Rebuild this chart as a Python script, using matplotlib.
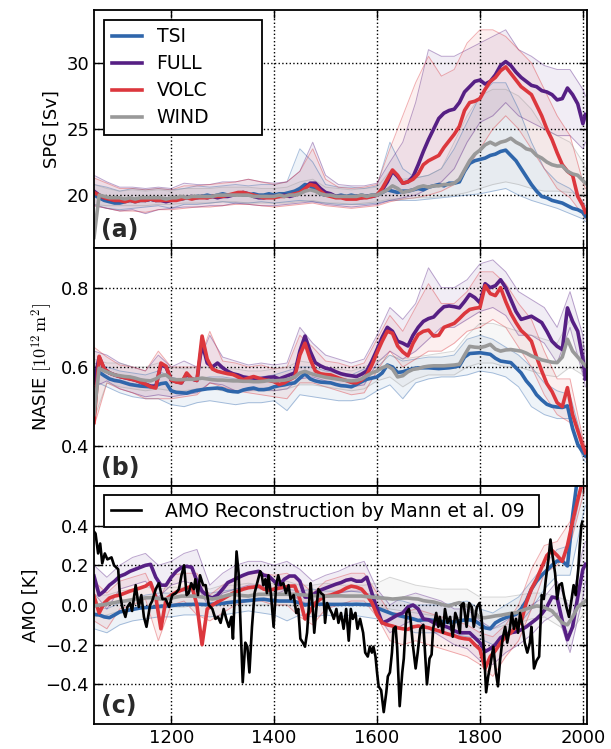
import numpy as np
import matplotlib
matplotlib.use("Agg")
import matplotlib.pyplot as plt

# year grids: ensemble means every 10 yr, ensemble envelopes every 25 yr
years = list(range(1050, 2001, 10)) + [2005]
years_env = list(range(1050, 2001, 25)) + [2005]

# ---------------- (a) SPG [Sv] ----------------
spg_tsi = [20.0, 19.8, 19.6, 19.5, 19.4, 19.4, 19.5, 19.6, 19.5, 19.6,
           19.6, 19.7, 19.6, 19.7, 19.7, 19.7, 19.8, 19.7, 19.8, 19.8,
           19.9, 19.9, 20.0, 19.9, 20.0, 20.1, 20.0, 20.0, 20.1, 20.0,
           20.0, 20.1, 20.0, 20.0, 20.1, 20.0, 20.1, 20.1, 20.2, 20.3,
           20.5, 20.8, 20.7, 20.4, 20.1, 20.0, 20.0, 19.9, 20.0, 19.9,
           20.0, 19.9, 20.0, 19.9, 20.0, 20.0, 20.2, 20.4, 20.3, 20.2,
           20.3, 20.3, 20.4, 20.5, 20.4, 20.6, 20.7, 20.8, 20.7, 20.9,
           20.9, 21.0, 21.8, 22.4, 22.6, 22.7, 22.8, 23.0, 23.1, 23.3,
           23.4, 23.0, 22.6, 22.0, 21.4, 20.8, 20.3, 19.9, 19.8, 19.6,
           19.5, 19.4, 19.2, 19.0, 18.9, 18.7, 18.4]
spg_full = [20.3, 20.0, 19.8, 19.7, 19.6, 19.6, 19.6, 19.7, 19.6, 19.7,
            19.6, 19.7, 19.6, 19.6, 19.5, 19.6, 19.7, 19.8, 19.8, 19.9,
            19.8, 19.9, 19.8, 19.9, 19.8, 19.9, 19.9, 20.0, 20.1, 20.2,
            20.1, 19.9, 19.8, 19.8, 19.9, 19.9, 19.9, 20.0, 19.9, 20.0,
            20.2, 20.5, 20.9, 20.9, 20.5, 20.2, 20.1, 19.9, 19.9, 19.8,
            19.8, 19.9, 19.8, 19.9, 19.9, 20.0, 20.4, 21.0, 21.8, 21.4,
            20.9, 21.0, 21.4, 22.3, 23.3, 24.2, 25.0, 25.8, 26.2, 26.4,
            26.5, 27.0, 27.8, 28.2, 28.6, 28.7, 28.4, 28.6, 29.1, 29.8,
            30.1, 29.8, 29.3, 28.9, 28.6, 28.3, 28.2, 27.9, 27.8, 27.6,
            27.2, 27.3, 28.1, 27.6, 26.9, 25.4, 26.1]
spg_volc = [20.2, 20.0, 19.8, 19.7, 19.6, 19.6, 19.5, 19.6, 19.5, 19.6,
            19.6, 19.7, 19.6, 19.6, 19.6, 19.6, 19.6, 19.7, 19.8, 19.7,
            19.8, 19.8, 19.8, 19.9, 19.9, 19.9, 20.0, 20.1, 20.2, 20.2,
            20.1, 20.0, 19.9, 19.8, 19.8, 19.8, 19.9, 19.9, 20.0, 20.1,
            20.2, 20.5, 20.8, 20.7, 20.3, 20.0, 19.9, 19.8, 19.8, 19.7,
            19.7, 19.7, 19.8, 19.8, 19.9, 20.0, 20.5, 21.2, 21.9, 21.5,
            20.9, 21.0, 21.2, 21.6, 22.3, 22.6, 22.8, 23.0, 23.6, 24.1,
            24.6, 25.2, 26.4, 27.0, 27.1, 27.3, 28.0, 28.6, 28.9, 29.4,
            29.7, 29.2, 28.7, 28.2, 27.9, 27.6, 26.8, 26.0, 25.0, 24.2,
            23.2, 22.3, 21.8, 21.5, 19.9, 19.2, 18.7]
spg_wind = [16.8, 20.0, 19.9, 19.8, 19.8, 19.8, 19.7, 19.8, 19.7, 19.8,
            19.8, 19.8, 19.8, 19.8, 19.7, 19.8, 19.8, 19.9, 19.8, 19.9,
            19.9, 19.9, 19.9, 19.9, 20.0, 20.0, 20.0, 20.0, 20.0, 20.0,
            20.0, 19.9, 19.9, 19.9, 19.9, 19.9, 20.0, 19.9, 20.0, 20.0,
            20.1, 20.3, 20.4, 20.3, 20.1, 20.0, 20.0, 19.9, 19.9, 19.9,
            19.9, 19.9, 20.0, 19.9, 20.0, 20.0, 20.2, 20.4, 20.7, 20.5,
            20.2, 20.3, 20.4, 20.6, 20.7, 20.6, 20.7, 20.7, 20.8, 20.8,
            20.9, 21.2, 21.9, 22.6, 23.1, 23.4, 23.8, 24.0, 23.8, 24.0,
            24.1, 24.3, 24.0, 23.8, 23.5, 23.4, 23.0, 22.8, 22.5, 22.3,
            22.2, 22.2, 21.8, 21.6, 21.5, 21.1, 20.9]

spg_tsi_hi = [20.8, 20.6, 20.3, 20.5, 20.4, 20.5, 20.4, 20.5,
              20.7, 20.6, 20.7, 20.8, 20.7, 20.8, 20.8, 21.0,
              23.5, 22.5, 20.8, 20.6, 20.6, 20.5, 20.7, 24.0,
              22.0, 21.3, 21.5, 22.0, 23.5, 25.5, 27.5, 28.5,
              28.5, 26.5, 24.0, 22.0, 21.0, 20.5, 19.5, 19.2]
spg_tsi_lo = [19.3, 19.0, 18.9, 19.0, 19.1, 19.2, 19.0, 19.3,
              19.3, 19.4, 19.5, 19.4, 19.4, 19.5, 19.4, 19.5,
              19.6, 19.5, 19.4, 19.3, 19.3, 19.3, 19.4, 19.6,
              19.6, 19.6, 19.7, 19.8, 19.9, 20.0, 20.1, 20.3,
              20.5, 20.0, 19.6, 19.3, 19.0, 18.6, 18.2, 18.0]
spg_full_hi = [21.5, 21.0, 20.6, 20.6, 20.5, 20.6, 20.5, 20.9,
               20.8, 20.8, 21.0, 21.0, 21.2, 21.0, 20.9, 21.0,
               21.8, 24.0, 21.5, 20.8, 20.7, 20.7, 20.9, 22.5,
               24.0, 27.0, 31.0, 30.5, 30.5, 31.0, 31.5, 32.0,
               32.5, 31.0, 30.5, 29.8, 29.5, 29.5, 28.0, 27.5]
spg_full_lo = [19.2, 19.0, 18.8, 18.9, 18.6, 18.9, 19.0, 19.1,
               19.1, 19.2, 19.2, 19.4, 19.3, 19.2, 19.2, 19.3,
               19.4, 19.5, 19.3, 19.2, 19.1, 19.2, 19.3, 19.6,
               19.8, 20.0, 20.5, 21.0, 22.0, 24.0, 25.5, 26.0,
               27.0, 26.0, 25.5, 25.0, 24.5, 24.5, 23.5, 24.0]
spg_volc_hi = [21.3, 20.9, 20.5, 20.5, 20.4, 20.5, 20.4, 20.7,
               20.7, 20.8, 20.9, 21.0, 21.2, 21.0, 20.8, 21.0,
               21.8, 23.5, 21.2, 20.6, 20.5, 20.6, 20.8, 23.5,
               26.0, 28.5, 30.5, 29.0, 29.5, 31.5, 32.5, 32.5,
               32.0, 31.0, 30.0, 28.0, 26.0, 24.5, 21.0, 20.5]
spg_volc_lo = [19.2, 19.0, 18.8, 18.8, 18.7, 18.9, 18.9, 19.0,
               19.1, 19.1, 19.2, 19.3, 19.3, 19.2, 19.1, 19.2,
               19.3, 19.4, 19.2, 19.1, 19.0, 19.1, 19.2, 19.5,
               19.7, 19.8, 20.0, 20.3, 20.8, 22.0, 23.5, 25.0,
               26.0, 25.0, 23.5, 22.0, 20.5, 19.8, 18.5, 18.2]
spg_wind_hi = [20.8, 20.5, 20.3, 20.4, 20.3, 20.4, 20.3, 20.5,
               20.5, 20.5, 20.6, 20.6, 20.6, 20.5, 20.5, 20.6,
               21.0, 21.2, 20.6, 20.5, 20.4, 20.5, 20.6, 21.8,
               21.2, 21.3, 21.5, 22.0, 24.0, 26.0, 27.5, 28.0,
               28.0, 27.5, 26.5, 25.0, 24.5, 24.0, 22.5, 22.0]
spg_wind_lo = [19.3, 19.2, 19.2, 19.2, 19.2, 19.3, 19.3, 19.4,
               19.4, 19.4, 19.5, 19.5, 19.4, 19.4, 19.4, 19.4,
               19.5, 19.6, 19.4, 19.4, 19.3, 19.4, 19.5, 19.7,
               19.7, 19.8, 19.8, 19.9, 20.0, 20.2, 20.5, 20.8,
               21.0, 20.8, 20.5, 20.3, 20.3, 20.2, 20.0, 19.8]

# ---------------- (b) NASIE ----------------
ice_tsi = [0.590, 0.587, 0.578, 0.570, 0.566, 0.564, 0.560, 0.556, 0.554, 0.552,
           0.551, 0.550, 0.553, 0.558, 0.560, 0.540, 0.536, 0.535, 0.534, 0.538,
           0.541, 0.543, 0.545, 0.546, 0.547, 0.545, 0.540, 0.538, 0.537, 0.542,
           0.545, 0.547, 0.543, 0.543, 0.545, 0.550, 0.553, 0.555, 0.558, 0.560,
           0.572, 0.583, 0.570, 0.565, 0.562, 0.561, 0.560, 0.556, 0.553, 0.552,
           0.550, 0.556, 0.563, 0.569, 0.572, 0.575, 0.585, 0.605, 0.600, 0.586,
           0.588, 0.592, 0.596, 0.598, 0.598, 0.598, 0.597, 0.596, 0.597, 0.598,
           0.600, 0.603, 0.625, 0.634, 0.635, 0.636, 0.634, 0.632, 0.622, 0.615,
           0.613, 0.611, 0.598, 0.585, 0.565, 0.550, 0.530, 0.517, 0.506, 0.501,
           0.499, 0.498, 0.502, 0.445, 0.405, 0.385, 0.376]
ice_full = [0.560, 0.625, 0.595, 0.585, 0.580, 0.576, 0.573, 0.570, 0.567, 0.562,
            0.557, 0.552, 0.550, 0.605, 0.600, 0.567, 0.563, 0.560, 0.582, 0.570,
            0.566, 0.660, 0.610, 0.600, 0.610, 0.598, 0.589, 0.583, 0.580, 0.575,
            0.573, 0.572, 0.570, 0.572, 0.574, 0.575, 0.570, 0.575, 0.580, 0.585,
            0.640, 0.678, 0.640, 0.611, 0.603, 0.597, 0.594, 0.588, 0.583, 0.580,
            0.578, 0.576, 0.582, 0.590, 0.615, 0.644, 0.675, 0.700, 0.690, 0.665,
            0.660, 0.653, 0.680, 0.700, 0.715, 0.722, 0.726, 0.740, 0.752, 0.754,
            0.752, 0.749, 0.765, 0.783, 0.775, 0.762, 0.810, 0.800, 0.805, 0.820,
            0.800, 0.770, 0.740, 0.720, 0.724, 0.728, 0.720, 0.712, 0.690, 0.665,
            0.652, 0.644, 0.749, 0.715, 0.690, 0.620, 0.570]
ice_volc = [0.460, 0.627, 0.595, 0.585, 0.580, 0.576, 0.573, 0.570, 0.567, 0.562,
            0.557, 0.550, 0.547, 0.610, 0.602, 0.567, 0.562, 0.560, 0.585, 0.570,
            0.566, 0.678, 0.620, 0.595, 0.589, 0.586, 0.583, 0.581, 0.575, 0.568,
            0.572, 0.576, 0.572, 0.568, 0.566, 0.563, 0.556, 0.560, 0.568, 0.575,
            0.630, 0.660, 0.620, 0.590, 0.583, 0.581, 0.580, 0.575, 0.570, 0.566,
            0.561, 0.560, 0.567, 0.580, 0.605, 0.636, 0.665, 0.690, 0.685, 0.653,
            0.638, 0.628, 0.660, 0.682, 0.690, 0.693, 0.678, 0.680, 0.700, 0.705,
            0.710, 0.722, 0.735, 0.745, 0.748, 0.750, 0.805, 0.785, 0.780, 0.800,
            0.765, 0.735, 0.712, 0.692, 0.680, 0.665, 0.625, 0.590, 0.558, 0.538,
            0.510, 0.500, 0.548, 0.480, 0.440, 0.400, 0.384]
ice_wind = [0.480, 0.597, 0.590, 0.585, 0.580, 0.578, 0.576, 0.575, 0.572, 0.568,
            0.566, 0.565, 0.570, 0.578, 0.580, 0.570, 0.568, 0.568, 0.569, 0.569,
            0.570, 0.572, 0.570, 0.568, 0.567, 0.567, 0.566, 0.565, 0.565, 0.564,
            0.564, 0.563, 0.563, 0.564, 0.566, 0.565, 0.566, 0.567, 0.570, 0.575,
            0.585, 0.589, 0.584, 0.580, 0.577, 0.574, 0.572, 0.570, 0.568, 0.566,
            0.565, 0.566, 0.570, 0.578, 0.585, 0.590, 0.598, 0.603, 0.595, 0.575,
            0.578, 0.588, 0.594, 0.596, 0.600, 0.602, 0.603, 0.603, 0.603, 0.604,
            0.605, 0.607, 0.630, 0.652, 0.650, 0.649, 0.652, 0.657, 0.645, 0.640,
            0.643, 0.644, 0.642, 0.640, 0.635, 0.628, 0.623, 0.618, 0.615, 0.612,
            0.611, 0.625, 0.670, 0.640, 0.625, 0.610, 0.603]

ice_tsi_hi = [0.610, 0.600, 0.590, 0.585, 0.580, 0.590, 0.575, 0.565,
              0.570, 0.575, 0.575, 0.570, 0.575, 0.575, 0.580, 0.590,
              0.600, 0.600, 0.590, 0.585, 0.580, 0.595, 0.600, 0.630,
              0.615, 0.620, 0.625, 0.625, 0.630, 0.670, 0.680, 0.670,
              0.650, 0.630, 0.600, 0.560, 0.540, 0.530, 0.410, 0.390]
ice_tsi_lo = [0.565, 0.550, 0.535, 0.525, 0.520, 0.520, 0.505, 0.500,
              0.510, 0.515, 0.510, 0.505, 0.510, 0.510, 0.515, 0.490,
              0.530, 0.525, 0.520, 0.515, 0.515, 0.520, 0.540, 0.555,
              0.520, 0.560, 0.570, 0.575, 0.575, 0.580, 0.590, 0.585,
              0.575, 0.550, 0.500, 0.480, 0.470, 0.470, 0.370, 0.360]
ice_full_hi = [0.640, 0.630, 0.610, 0.600, 0.590, 0.630, 0.600, 0.615,
               0.600, 0.680, 0.625, 0.615, 0.605, 0.610, 0.605, 0.610,
               0.700, 0.660, 0.630, 0.620, 0.610, 0.620, 0.680, 0.750,
               0.720, 0.760, 0.850, 0.800, 0.800, 0.820, 0.860, 0.870,
               0.840, 0.790, 0.770, 0.750, 0.700, 0.790, 0.680, 0.600]
ice_full_lo = [0.550, 0.565, 0.545, 0.535, 0.525, 0.530, 0.525, 0.530,
               0.535, 0.560, 0.555, 0.540, 0.540, 0.545, 0.540, 0.545,
               0.570, 0.575, 0.565, 0.555, 0.550, 0.555, 0.610, 0.640,
               0.620, 0.640, 0.670, 0.700, 0.700, 0.720, 0.740, 0.750,
               0.730, 0.680, 0.680, 0.660, 0.610, 0.700, 0.580, 0.550]
ice_volc_hi = [0.650, 0.625, 0.605, 0.600, 0.590, 0.640, 0.600, 0.600,
               0.600, 0.690, 0.615, 0.610, 0.600, 0.605, 0.595, 0.600,
               0.680, 0.650, 0.615, 0.610, 0.600, 0.610, 0.670, 0.730,
               0.690, 0.750, 0.810, 0.760, 0.760, 0.790, 0.840, 0.840,
               0.810, 0.760, 0.720, 0.640, 0.570, 0.570, 0.420, 0.400]
ice_volc_lo = [0.450, 0.560, 0.545, 0.535, 0.520, 0.520, 0.520, 0.525,
               0.530, 0.560, 0.550, 0.540, 0.535, 0.530, 0.525, 0.520,
               0.560, 0.560, 0.550, 0.540, 0.530, 0.535, 0.590, 0.640,
               0.600, 0.620, 0.640, 0.640, 0.660, 0.690, 0.700, 0.720,
               0.700, 0.650, 0.600, 0.530, 0.480, 0.460, 0.380, 0.370]
ice_wind_hi = [0.620, 0.610, 0.610, 0.600, 0.600, 0.610, 0.600, 0.595,
               0.600, 0.600, 0.595, 0.595, 0.590, 0.590, 0.595, 0.600,
               0.615, 0.610, 0.600, 0.595, 0.590, 0.600, 0.615, 0.630,
               0.620, 0.625, 0.630, 0.635, 0.640, 0.680, 0.710, 0.710,
               0.700, 0.690, 0.680, 0.670, 0.660, 0.720, 0.660, 0.640]
ice_wind_lo = [0.470, 0.560, 0.550, 0.545, 0.540, 0.545, 0.540, 0.540,
               0.545, 0.545, 0.540, 0.540, 0.540, 0.540, 0.540, 0.545,
               0.555, 0.555, 0.550, 0.545, 0.540, 0.545, 0.565, 0.575,
               0.550, 0.570, 0.580, 0.580, 0.580, 0.600, 0.610, 0.610,
               0.600, 0.600, 0.590, 0.580, 0.575, 0.600, 0.580, 0.570]

# ---------------- (c) AMO [K] ----------------
amo_tsi = [-0.047, -0.050, -0.060, -0.064, -0.050, -0.035, -0.030, -0.025, -0.020, -0.015,
           -0.013, -0.012, -0.010, -0.006, -0.005, -0.003, 0.000, 0.002, 0.003, 0.003,
           0.004, 0.003, 0.002, 0.004, 0.006, 0.008, 0.012, 0.015, 0.018, 0.020,
           0.022, 0.025, 0.028, 0.029, 0.025, 0.022, 0.020, 0.020, 0.020, 0.018,
           0.010, 0.000, 0.005, 0.004, 0.004, 0.004, 0.003, 0.003, 0.003, 0.004,
           0.003, 0.004, 0.003, 0.002, 0.000, -0.015, -0.025, -0.035, -0.045, -0.052,
           -0.058, -0.064, -0.070, -0.078, -0.075, -0.074, -0.078, -0.082, -0.085, -0.088,
           -0.085, -0.080, -0.076, -0.075, -0.080, -0.097, -0.115, -0.120, -0.090, -0.075,
           -0.064, -0.055, -0.047, -0.020, 0.020, 0.080, 0.120, 0.150, 0.175, 0.200,
           0.222, 0.222, 0.197, 0.450, 0.650, 0.700, 0.700]
amo_full = [0.146, 0.050, 0.070, 0.100, 0.120, 0.145, 0.155, 0.170, 0.180, 0.190,
            0.200, 0.205, 0.140, 0.100, 0.100, 0.140, 0.170, 0.190, 0.195, 0.190,
            0.120, 0.070, 0.045, 0.035, 0.050, 0.080, 0.113, 0.125, 0.138, 0.150,
            0.160, 0.165, 0.170, 0.150, 0.145, 0.120, 0.100, 0.130, 0.146, 0.146,
            0.120, 0.040, 0.040, 0.060, 0.075, 0.085, 0.095, 0.105, 0.113, 0.125,
            0.130, 0.120, 0.120, 0.140, 0.060, -0.020, -0.090, -0.080, -0.065, -0.050,
            -0.040, -0.010, 0.000, -0.020, -0.070, -0.075, -0.089, -0.100, -0.105, -0.115,
            -0.130, -0.140, -0.140, -0.140, -0.165, -0.190, -0.235, -0.220, -0.200, -0.165,
            -0.150, -0.140, -0.135, -0.125, -0.110, -0.090, -0.070, -0.045, -0.010, 0.040,
            0.035, -0.080, -0.175, -0.110, 0.040, 0.180, 0.205]
amo_volc = [0.045, -0.040, 0.010, 0.035, 0.045, 0.050, 0.060, 0.070, 0.078, 0.086,
            0.095, 0.113, 0.040, -0.120, 0.030, 0.050, 0.065, 0.075, 0.085, 0.096,
            0.000, -0.200, -0.020, 0.000, 0.015, 0.030, 0.045, 0.060, 0.070, 0.080,
            0.087, 0.090, 0.095, 0.080, 0.075, 0.080, 0.085, 0.090, 0.095, 0.096,
            0.030, -0.070, -0.030, 0.010, 0.030, 0.045, 0.050, 0.060, 0.070, 0.085,
            0.095, 0.090, 0.080, 0.050, 0.012, -0.050, -0.090, -0.100, -0.106, -0.115,
            -0.120, -0.123, -0.110, -0.106, -0.110, -0.115, -0.123, -0.130, -0.140, -0.148,
            -0.155, -0.165, -0.170, -0.173, -0.200, -0.224, -0.320, -0.260, -0.230, -0.190,
            -0.160, -0.140, -0.110, -0.085, 0.012, 0.080, 0.130, 0.190, 0.250, 0.275,
            0.250, 0.220, 0.300, 0.420, 0.530, 0.630, 0.650]
amo_wind = [-0.005, 0.000, 0.002, 0.008, 0.012, 0.018, 0.020, 0.025, 0.030, 0.033,
            0.036, 0.037, 0.035, 0.030, 0.030, 0.035, 0.040, 0.045, 0.045, 0.045,
            0.044, 0.040, 0.035, 0.030, 0.035, 0.042, 0.050, 0.054, 0.050, 0.047,
            0.045, 0.050, 0.054, 0.054, 0.054, 0.054, 0.054, 0.054, 0.054, 0.054,
            0.052, 0.050, 0.048, 0.047, 0.046, 0.045, 0.045, 0.046, 0.046, 0.045,
            0.045, 0.045, 0.045, 0.042, 0.040, 0.037, 0.035, 0.033, 0.030, 0.032,
            0.035, 0.035, 0.032, 0.030, 0.022, 0.018, 0.015, 0.008, 0.000, -0.005,
            0.005, 0.012, 0.000, -0.010, -0.040, -0.064, -0.064, -0.060, -0.055, -0.052,
            -0.047, -0.042, -0.039, -0.030, -0.020, -0.012, -0.005, -0.008, -0.018, -0.030,
            -0.060, -0.090, -0.100, -0.060, -0.010, 0.010, 0.020]

amo_tsi_hi = [0.00, -0.02, 0.01, 0.03, 0.05, 0.06, 0.06, 0.07,
              0.07, 0.06, 0.07, 0.08, 0.09, 0.08, 0.08, 0.08,
              0.07, 0.08, 0.07, 0.07, 0.07, 0.06, 0.05, 0.03,
              0.02, 0.00, 0.00, 0.00, 0.01, 0.02, -0.02, -0.04,
              0.00, 0.04, 0.12, 0.20, 0.28, 0.30, 0.62, 0.62]
amo_tsi_lo = [-0.12, -0.14, -0.10, -0.08, -0.07, -0.06, -0.06, -0.05,
              -0.05, -0.06, -0.05, -0.04, -0.03, -0.04, -0.05, -0.08,
              -0.05, -0.06, -0.05, -0.06, -0.05, -0.06, -0.07, -0.10,
              -0.12, -0.14, -0.14, -0.14, -0.15, -0.16, -0.17, -0.20,
              -0.14, -0.10, -0.02, 0.08, 0.15, 0.15, 0.45, 0.50]
amo_full_hi = [0.20, 0.14, 0.20, 0.24, 0.26, 0.20, 0.22, 0.26,
               0.28, 0.10, 0.16, 0.20, 0.22, 0.22, 0.20, 0.22,
               0.18, 0.12, 0.15, 0.17, 0.20, 0.22, 0.08, 0.00,
               0.04, 0.06, 0.04, 0.02, -0.02, -0.02, -0.08, -0.12,
               -0.08, -0.04, 0.00, 0.04, 0.12, -0.02, 0.28, 0.32]
amo_full_lo = [0.06, -0.02, 0.08, 0.10, 0.12, 0.04, 0.10, 0.12,
               0.10, -0.02, 0.06, 0.08, 0.10, 0.10, 0.05, 0.08,
               0.02, 0.00, 0.04, 0.06, 0.07, 0.07, -0.05, -0.14,
               -0.10, -0.07, -0.12, -0.16, -0.20, -0.22, -0.28, -0.30,
               -0.24, -0.20, -0.15, -0.08, -0.04, -0.24, 0.04, 0.12]
amo_volc_hi = [0.12, 0.06, 0.12, 0.14, 0.16, 0.02, 0.15, 0.16,
               0.16, 0.05, 0.10, 0.14, 0.16, 0.16, 0.15, 0.16,
               0.12, 0.06, 0.12, 0.14, 0.16, 0.16, 0.06, -0.04,
               -0.04, -0.02, -0.04, -0.06, -0.08, -0.10, -0.14, -0.16,
               -0.10, 0.00, 0.18, 0.30, 0.32, 0.42, 0.62, 0.62]
amo_volc_lo = [-0.08, -0.12, -0.02, 0.00, 0.03, -0.18, 0.00, 0.02,
               -0.05, -0.08, -0.04, 0.00, 0.02, 0.02, 0.00, 0.00,
               -0.06, -0.10, -0.02, 0.00, 0.02, 0.02, -0.06, -0.18,
               -0.20, -0.18, -0.20, -0.22, -0.24, -0.26, -0.30, -0.36,
               -0.26, -0.18, -0.02, 0.16, 0.20, 0.30, 0.55, 0.60]
amo_wind_hi = [0.05, 0.05, 0.07, 0.08, 0.09, 0.08, 0.09, 0.09,
               0.10, 0.08, 0.10, 0.10, 0.11, 0.10, 0.11, 0.12,
               0.10, 0.10, 0.11, 0.10, 0.10, 0.10, 0.11, 0.14,
               0.12, 0.10, 0.09, 0.08, 0.08, 0.08, 0.04, 0.04,
               0.04, 0.05, 0.06, 0.06, 0.04, 0.02, 0.08, 0.08]
amo_wind_lo = [-0.06, -0.05, -0.03, -0.02, -0.01, -0.02, -0.01, -0.01,
               0.00, -0.01, 0.00, 0.00, 0.00, 0.00, 0.00, 0.00,
               -0.01, 0.00, 0.00, 0.00, 0.00, 0.00, -0.01, -0.02,
               -0.03, -0.04, -0.05, -0.06, -0.06, -0.07, -0.12, -0.12,
               -0.10, -0.09, -0.07, -0.06, -0.10, -0.14, -0.05, -0.04]

# Mann et al. 09 AMO reconstruction
mann_years = [1050, 1053, 1058, 1062, 1066, 1071, 1076, 1084, 1089, 1097,
              1100, 1105, 1111, 1115, 1120, 1124, 1131, 1137, 1142, 1147,
              1152, 1159, 1163, 1170, 1176, 1183, 1189, 1196, 1202, 1209,
              1215, 1220, 1225, 1230, 1234, 1239, 1244, 1247, 1252, 1256,
              1262, 1267, 1273, 1280, 1286, 1291, 1296, 1302, 1307, 1312,
              1317, 1320, 1327, 1331, 1336, 1339, 1344, 1348, 1352, 1357,
              1362, 1367, 1373, 1376, 1379, 1383, 1386, 1389, 1394, 1399,
              1404, 1408, 1413, 1418, 1423, 1428, 1432, 1438, 1443, 1447,
              1451, 1456, 1460, 1464, 1469, 1471, 1475, 1478, 1482, 1486,
              1491, 1496, 1499, 1503, 1508, 1512, 1516, 1521, 1525, 1530,
              1535, 1540, 1545, 1549, 1553, 1558, 1562, 1567, 1573, 1577,
              1582, 1586, 1590, 1593, 1597, 1600, 1603, 1608, 1613, 1618,
              1621, 1625, 1629, 1632, 1636, 1639, 1644, 1649, 1652, 1657,
              1662, 1665, 1670, 1675, 1679, 1684, 1690, 1697, 1702, 1706,
              1709, 1715, 1719, 1722, 1728, 1732, 1737, 1742, 1747, 1752,
              1756, 1761, 1764, 1768, 1774, 1779, 1784, 1788, 1794, 1799,
              1803, 1808, 1812, 1816, 1821, 1826, 1831, 1835, 1839, 1844,
              1849, 1853, 1858, 1862, 1866, 1870, 1874, 1878, 1883, 1887,
              1892, 1897, 1900, 1905, 1910, 1915, 1920, 1924, 1928, 1933,
              1937, 1941, 1946, 1950, 1954, 1959, 1963, 1968, 1973, 1978,
              1982, 1986, 1991, 1994, 1997, 1999]
mann_amo = [0.37, 0.36, 0.26, 0.31, 0.21, 0.26, 0.23, 0.24, 0.20, 0.18,
            0.06, -0.01, -0.06, -0.01, 0.01, -0.03, 0.10, -0.01, 0.05, -0.06,
            -0.11, 0.00, 0.02, 0.08, 0.11, 0.03, 0.03, -0.01, 0.05, 0.06,
            0.08, 0.15, 0.20, 0.05, 0.06, 0.11, 0.08, 0.13, 0.05, 0.15,
            0.10, 0.10, 0.00, -0.02, -0.07, -0.06, -0.09, -0.02, -0.07, -0.11,
            -0.06, -0.17, 0.27, 0.16, -0.19, -0.39, -0.19, -0.21, -0.34, -0.11,
            0.06, 0.11, 0.17, 0.15, 0.10, 0.13, 0.06, 0.15, 0.05, -0.11,
            0.10, 0.15, 0.10, 0.11, 0.06, 0.10, 0.03, 0.05, -0.04, -0.02,
            -0.17, -0.19, -0.21, -0.14, 0.05, 0.11, -0.01, -0.14, -0.02, 0.08,
            0.06, 0.05, -0.09, 0.01, -0.02, -0.04, -0.07, -0.02, -0.09, -0.04,
            -0.12, -0.02, -0.18, -0.02, -0.07, -0.04, -0.12, -0.07, -0.14, -0.24,
            -0.26, -0.21, -0.24, -0.21, -0.26, -0.34, -0.41, -0.43, -0.54, -0.44,
            -0.36, -0.34, -0.24, -0.12, -0.11, -0.21, -0.51, -0.34, -0.27, -0.04,
            -0.02, -0.07, -0.21, -0.32, -0.24, -0.12, -0.10, -0.40, -0.27, -0.25,
            -0.12, -0.04, -0.11, -0.06, -0.14, -0.02, -0.09, -0.06, -0.16, -0.04,
            -0.07, -0.14, 0.00, 0.01, -0.11, 0.01, -0.01, -0.11, -0.01, 0.01,
            -0.06, -0.24, -0.44, -0.36, -0.29, -0.21, -0.34, -0.41, -0.28, -0.17,
            -0.11, -0.19, -0.12, -0.04, -0.12, -0.07, -0.14, -0.04, -0.11, -0.19,
            -0.24, -0.19, -0.11, -0.32, -0.28, -0.26, 0.05, 0.03, 0.13, 0.23,
            0.33, 0.25, 0.16, 0.03, 0.10, 0.11, 0.05, -0.01, -0.06, 0.03,
            0.10, 0.05, 0.18, 0.30, 0.40, 0.42]

names = ["TSI", "FULL", "VOLC", "WIND"]
colors = {"TSI": "#2f66ab", "FULL": "#561f84", "VOLC": "#dc373d", "WIND": "#999999"}

panels = [
    ([spg_tsi, spg_full, spg_volc, spg_wind],
     [(spg_tsi_lo, spg_tsi_hi), (spg_full_lo, spg_full_hi),
      (spg_volc_lo, spg_volc_hi), (spg_wind_lo, spg_wind_hi)]),
    ([ice_tsi, ice_full, ice_volc, ice_wind],
     [(ice_tsi_lo, ice_tsi_hi), (ice_full_lo, ice_full_hi),
      (ice_volc_lo, ice_volc_hi), (ice_wind_lo, ice_wind_hi)]),
    ([amo_tsi, amo_full, amo_volc, amo_wind],
     [(amo_tsi_lo, amo_tsi_hi), (amo_full_lo, amo_full_hi),
      (amo_volc_lo, amo_volc_hi), (amo_wind_lo, amo_wind_hi)]),
]

plt.rcParams["font.family"] = "DejaVu Sans"
plt.rcParams["mathtext.fontset"] = "cm"

fig = plt.figure(figsize=(6.11, 7.49), dpi=100)
left, right = 94 / 611, 587 / 611
top, bot = 1 - 10 / 749, 1 - 724 / 749
h = (top - bot) / 3
axes = [fig.add_axes([left, top - (i + 1) * h, right - left, h]) for i in range(3)]

ylabels = ["SPG [Sv]", r"NASIE $[10^{12}\,\mathrm{m}^2]$", "AMO [K]"]
ylims = [(16, 34), (0.3, 0.9), (-0.6, 0.6)]
yticks = [[20, 25, 30], [0.4, 0.6, 0.8], [-0.4, -0.2, 0.0, 0.2, 0.4]]
letters = ["(a)", "(b)", "(c)"]

for ax, (means, envs), ylab, ylim, yt, let in zip(axes, panels, ylabels, ylims, yticks, letters):
    # ensemble spread
    for name, (lo, hi) in zip(names, envs):
        c = colors[name]
        ax.fill_between(years_env, lo, hi, color=c, alpha=0.08, lw=0)
        ax.plot(years_env, lo, color=c, lw=0.7, alpha=0.4)
        ax.plot(years_env, hi, color=c, lw=0.7, alpha=0.4)
    handles = []
    for name, m in zip(names, means):
        ln, = ax.plot(years, m, color=colors[name], lw=2.6, label=name)
        handles.append(ln)

    ax.set_xlim(1050, 2008)
    ax.set_ylim(*ylim)
    ax.set_yticks(yt)
    ax.set_xticks([1200, 1400, 1600, 1800, 2000])
    ax.grid(True, color="k", linestyle=":", lw=1)
    ax.tick_params(direction="in", top=True, right=True, length=6, width=1, labelsize=13)
    for s in ax.spines.values():
        s.set_linewidth(1.3)
    ax.set_ylabel(ylab, fontsize=13)
    ax.text(0.015, 0.025, let, transform=ax.transAxes, fontsize=17,
            fontweight="bold", color="#2a2a2a", va="bottom", ha="left")

    if ax is axes[0]:
        leg = ax.legend(handles=handles, loc="upper left", fontsize=13.5,
                        bbox_to_anchor=(0.0203, 0.0, 0.3205, 0.958), mode="expand",
                        borderaxespad=0, handlelength=1.6, labelspacing=0.42,
                        fancybox=False, framealpha=1, edgecolor="k", borderpad=0.4)
        leg.get_frame().set_linewidth(1.3)
    if ax is not axes[2]:
        ax.tick_params(labelbottom=False)

ax = axes[2]
mann, = ax.plot(mann_years, mann_amo, color="k", lw=1.9,
                label="AMO Reconstruction by Mann et al. 09")
leg = ax.legend(handles=[mann], loc="upper left", fontsize=13.5,
                bbox_to_anchor=(0.0203, 0.0, 0.882, 0.962), mode="expand",
                borderaxespad=0, handlelength=1.6, handletextpad=1.3,
                fancybox=False, framealpha=1, edgecolor="k", borderpad=0.35)
leg.get_frame().set_linewidth(1.3)

fig.savefig("out.png", dpi=100)
